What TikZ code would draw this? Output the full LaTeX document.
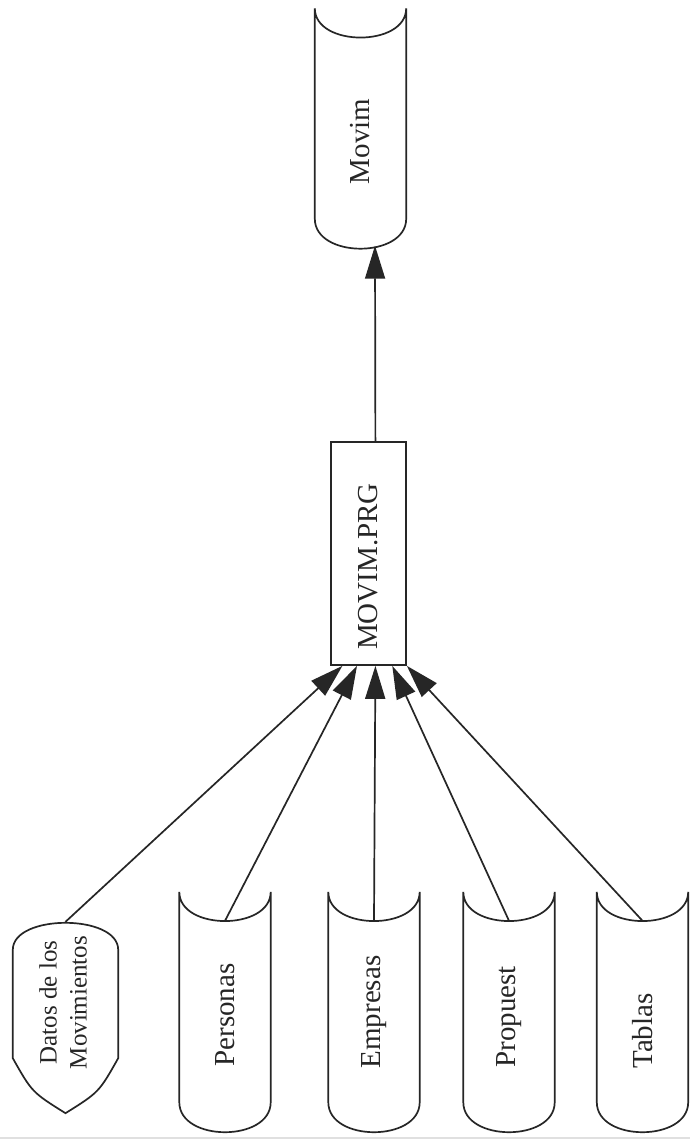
\documentclass[tikz,border=0pt]{standalone}
\usepackage{fontspec}
\setmainfont{Liberation Serif}
\usepackage{graphicx}
\usetikzlibrary{arrows.meta,calc}
\tikzset{
  ln/.style={draw=black!85, line width=1.7pt},
  store/.style={minimum width=91pt, minimum height=240pt, inner sep=0pt, text=black!85, font=\fontsize{29}{34}\selectfont},
  procbox/.style={ln, minimum width=75pt, minimum height=223pt, inner sep=0pt, text=black!85, font=\fontsize{29}{34}\selectfont},
  docin/.style={minimum width=105pt, minimum height=191pt, inner sep=0pt, text=black!85, font=\fontsize{25}{30}\selectfont},
  flow/.style={ln, -{Triangle[length=33pt,width=20pt]}},
}
\newcommand{\storeoutline}[1]{%
  \draw[ln] (#1.north west) .. controls +(0,39) and +(0,39) .. (#1.north east)
     -- ($(#1.south east)+(0,-30)$) .. controls +(0,40) and +(0,40) .. ($(#1.south west)+(0,-30)$) -- cycle;
  \coordinate (#1-top) at ($(#1.north)+(0,29)$);
}
\begin{document}
\begin{tikzpicture}[x=1pt,y=-1pt]
\useasboundingbox (0,0) rectangle (690,1140);
\fill[white] (0,0) rectangle (690,1140);

% nodes
\node[store] (movim) at (360.5,128.5) {\rotatebox{90}{Movim\hspace{26pt}}};
\node[procbox] (prg) at (368.5,553.5) {\rotatebox{90}{MOVIM.PRG\hspace{26pt}}};
\node[docin] (datos) at (65.5,1017.5) {\rotatebox{90}{\hspace{30pt}\begin{tabular}{@{}c@{}}Datos de los\\Movimientos\end{tabular}}};
\node[store] (personas) at (225,1012) {\rotatebox{90}{Personas\hspace{6pt}}};
\node[store] (empresas) at (374,1012) {\rotatebox{90}{Empresas}};
\node[store] (propuest) at (509,1012) {\rotatebox{90}{Propuest\hspace{10pt}}};
\node[store] (tablas) at (642.5,1012) {\rotatebox{90}{Tablas\hspace{38pt}}};

% outlines
\storeoutline{movim}
\storeoutline{personas}
\storeoutline{empresas}
\storeoutline{propuest}
\storeoutline{tablas}
\draw[ln] ($(datos.north west)+(0,28)$) .. controls +(0,-36) and +(0,-36) .. ($(datos.north east)+(0,28)$)
   -- ($(datos.south east)+(0,-55)$) .. controls ($(datos.south)+(33.5,-21)$) .. (datos.south)
   .. controls ($(datos.south)+(-33.5,-21)$) .. ($(datos.south west)+(0,-55)$) -- cycle;

% connection points
\coordinate (in1) at ($(prg.south west)!0.16!(prg.south east)$);
\coordinate (in2) at ($(prg.south west)!0.35!(prg.south east)$);
\coordinate (in3) at ($(prg.south west)!0.59!(prg.south east)$);
\coordinate (in4) at ($(prg.south west)!0.81!(prg.south east)$);
\coordinate (in5) at ($(prg.south west)!1.0!(prg.south east)$);
\coordinate (prg-out) at ($(prg.north west)!0.59!(prg.north east)$);
\coordinate (movim-in) at ($(movim.south)+(14.5,-3)$);

% connectors
\draw[flow] (datos.north) -- (in1);
\draw[flow] (personas-top) -- (in2);
\draw[flow] (empresas-top) -- (in3);
\draw[flow] (propuest-top) -- (in4);
\draw[flow] (tablas-top) -- (in5);
\draw[flow] (prg-out) -- (movim-in);

% faint scan edge at bottom
\draw[black!12, line width=2pt] (0,1138) -- (690,1138);
\end{tikzpicture}
\end{document}
